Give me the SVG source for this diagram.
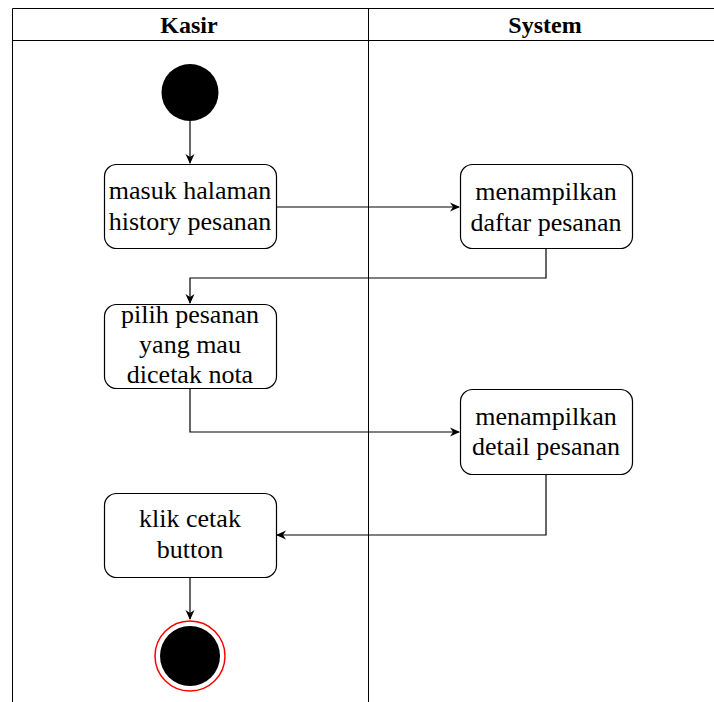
<svg xmlns="http://www.w3.org/2000/svg" width="714" height="702" viewBox="0 0 714 702">
  <style>
    .lane { fill: none; stroke: #000; stroke-width: 1; }
    .hdr { font-family: 'Liberation Serif', 'Times New Roman', serif; font-size: 24px; font-weight: bold; text-anchor: middle; fill: #000; }
    .act rect { fill: #fff; stroke: #000; stroke-width: 1.2; }
    .act text { font-family: 'Liberation Serif', 'Times New Roman', serif; font-size: 26px; text-anchor: middle; fill: #000; }
    .flow { fill: none; stroke: #000; stroke-width: 1.2; marker-end: url(#arrow); }
  </style>
  <defs>
    <marker id="arrow" markerWidth="12" markerHeight="12" refX="10" refY="6" orient="auto" markerUnits="userSpaceOnUse">
      <path d="M1,1.5 L11,6 L1,10.5 L4,6 Z" fill="#000"/>
    </marker>
  </defs>
  <rect width="714" height="702" fill="#fff"/>

  <!-- swimlanes -->
  <g id="lanes">
    <path class="lane" d="M12.5,702 V8.5 H714 M12.5,40.5 H714 M368.5,8.5 V702"/>
    <text class="hdr" x="189" y="33">Kasir</text>
    <text class="hdr" x="545" y="33">System</text>
  </g>

  <!-- connectors -->
  <g id="connectors">
    <path class="flow" d="M190,121 V163"/>
    <path class="flow" d="M276,207 H459"/>
    <path class="flow" d="M546,249 V278 H190 V303"/>
    <path class="flow" d="M190,389 V432 H459"/>
    <path class="flow" d="M546,475 V535 H277"/>
    <path class="flow" d="M190,578 V619"/>
  </g>

  <g id="start">
    <circle cx="190" cy="92.5" r="28.5" fill="#000"/>
  </g>

  <g id="masuk-halaman" class="act">
    <rect x="104.5" y="164.5" width="172" height="84" rx="12"/>
    <text x="190" y="199">masuk halaman</text>
    <text x="190" y="230">history pesanan</text>
  </g>

  <g id="menampilkan-daftar" class="act">
    <rect x="460.5" y="164.5" width="172" height="84" rx="12"/>
    <text x="546" y="200">menampilkan</text>
    <text x="546" y="231">daftar pesanan</text>
  </g>

  <g id="pilih-pesanan" class="act">
    <rect x="104.5" y="304.5" width="172" height="84" rx="12"/>
    <text x="190" y="323">pilih pesanan</text>
    <text x="190" y="353">yang mau</text>
    <text x="190" y="383">dicetak nota</text>
  </g>

  <g id="menampilkan-detail" class="act">
    <rect x="460.5" y="389.5" width="172" height="85" rx="12"/>
    <text x="546" y="425">menampilkan</text>
    <text x="546" y="455">detail pesanan</text>
  </g>

  <g id="klik-cetak" class="act">
    <rect x="104.5" y="493.5" width="172" height="84" rx="12"/>
    <text x="190" y="527">klik cetak</text>
    <text x="190" y="558">button</text>
  </g>

  <g id="end">
    <circle cx="190" cy="656" r="35" fill="#fff" stroke="#ff0000" stroke-width="1.5"/>
    <circle cx="190" cy="656" r="30" fill="#000"/>
  </g>
</svg>
